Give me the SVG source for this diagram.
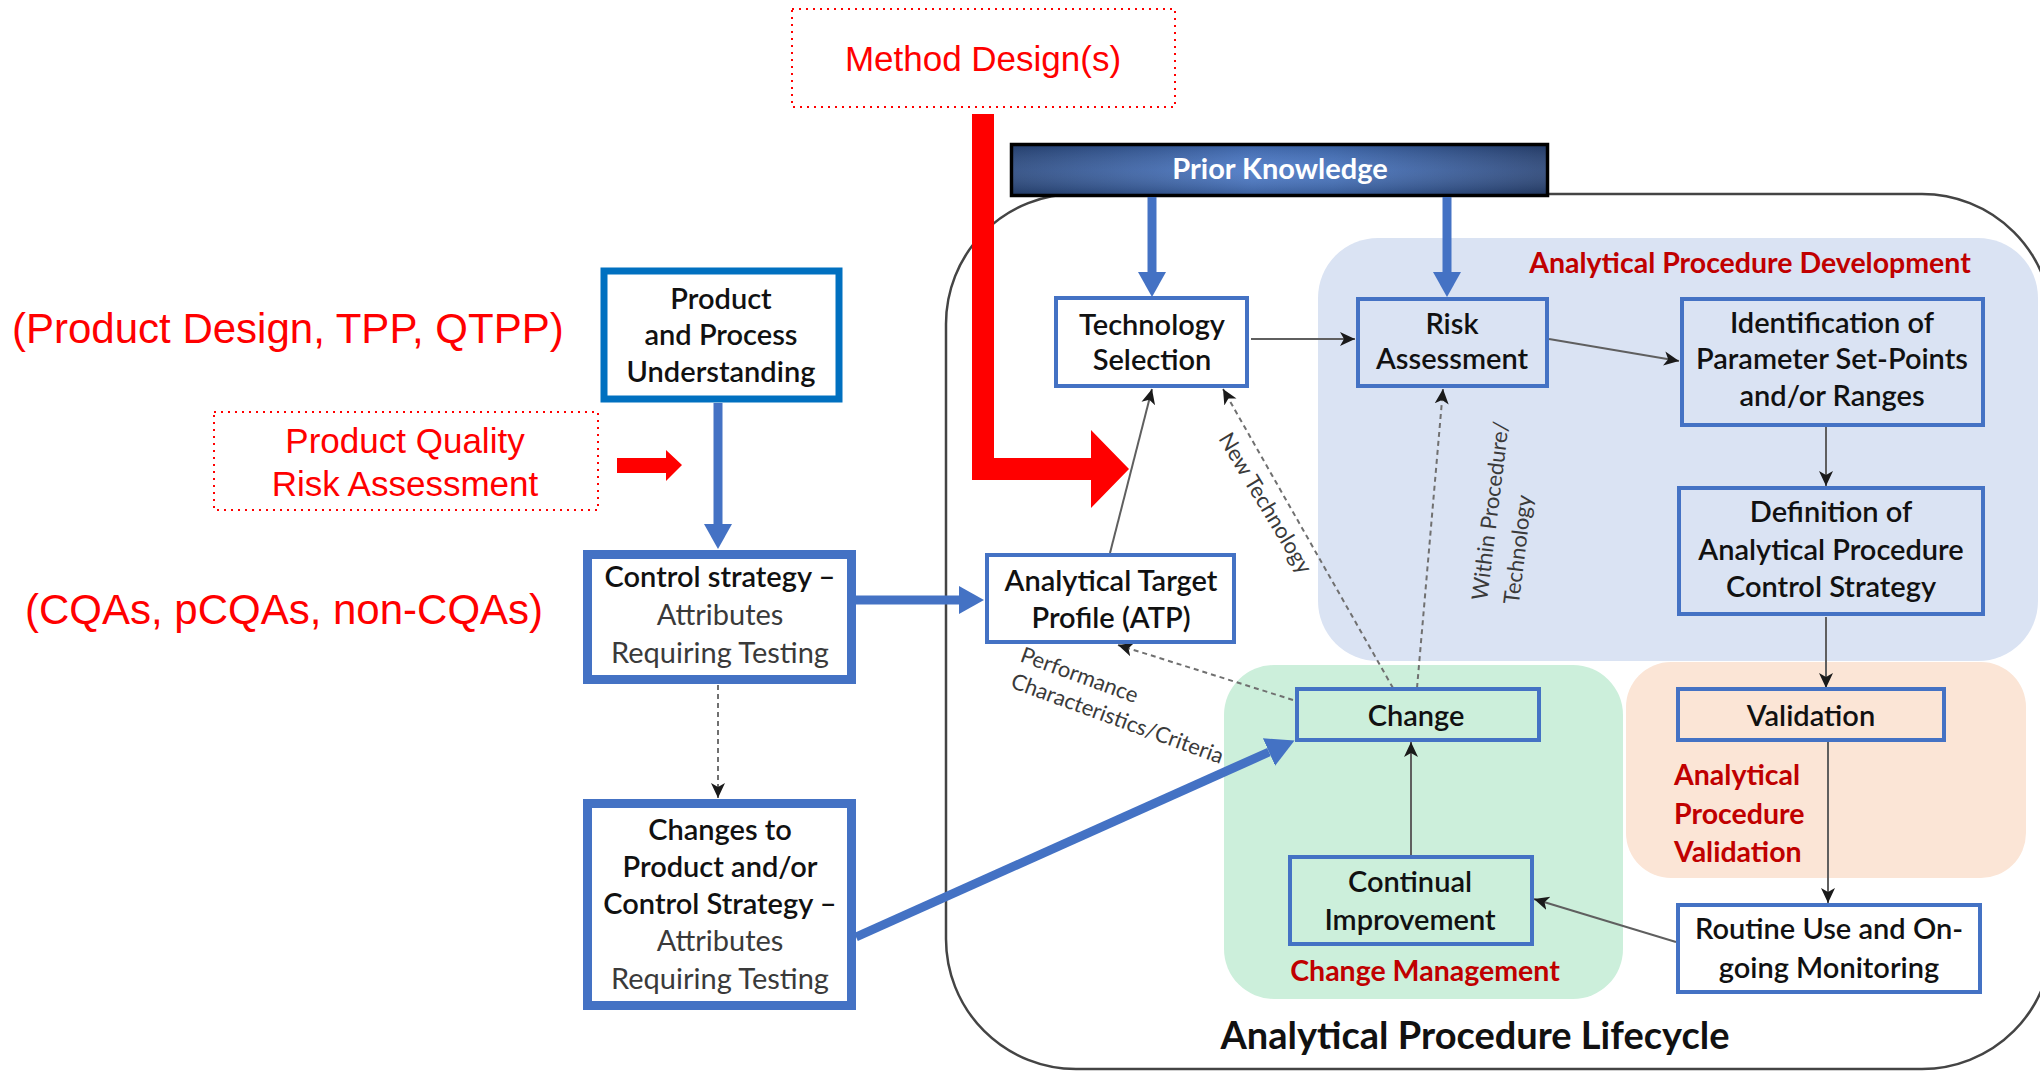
<svg xmlns="http://www.w3.org/2000/svg" width="2040" height="1072" viewBox="0 0 2040 1072">
  <defs>
    <style>
      .node { fill: #ffffff; stroke: #4472c4; stroke-width: 4; }
      .nodeClear { fill: none; stroke: #4472c4; stroke-width: 4; }
      .nodeHeavy { fill: #ffffff; stroke: #4472c4; stroke-width: 9; }
      .t { font-family: Lato, "Liberation Sans", Arial, sans-serif; font-size: 29px; font-weight: 600; fill: #111111; text-anchor: middle; }
      .tl { font-family: Lato, "Liberation Sans", Arial, sans-serif; font-size: 29px; font-weight: 400; fill: #3a3a3a; text-anchor: middle; }
      .red { font-family: "Liberation Sans", Arial, sans-serif; fill: #ff0000; }
      .region { font-family: Lato, "Liberation Sans", Arial, sans-serif; font-size: 28.5px; font-weight: 700; fill: #c00000; }
      .small { font-family: Lato, "Liberation Sans", Arial, sans-serif; font-size: 22px; fill: #3a3a3a; }
      .thin { fill: none; stroke: #5f5f5f; stroke-width: 2; marker-end: url(#tip); }
      .dash { fill: none; stroke: #707070; stroke-width: 2; stroke-dasharray: 5 4; marker-end: url(#tip); }
      .blue { fill: none; stroke: #4472c4; }
      .dotted { fill: none; stroke: #ff0000; stroke-width: 2; stroke-dasharray: 2 5; }
    </style>
    <marker id="tip" markerUnits="userSpaceOnUse" markerWidth="18" markerHeight="18" refX="15" refY="8" orient="auto">
      <path d="M0,1 L15,8 L0,15 L4,8 Z" fill="#1a1a1a"/>
    </marker>
    <marker id="blueHead" markerUnits="userSpaceOnUse" markerWidth="30" markerHeight="30" refX="0" refY="14" orient="auto">
      <path d="M0,0 L25,14 L0,28 Z" fill="#4472c4"/>
    </marker>
    <marker id="blueHeadWide" markerUnits="userSpaceOnUse" markerWidth="34" markerHeight="34" refX="0" refY="15" orient="auto">
      <path d="M0,0 L28,15 L0,30 Z" fill="#4472c4"/>
    </marker>
    <linearGradient id="pkFill" x1="0" y1="0" x2="1" y2="0">
      <stop offset="0" stop-color="#2b4a80"/>
      <stop offset="0.45" stop-color="#4a78c6"/>
      <stop offset="0.6" stop-color="#4572bd"/>
      <stop offset="1" stop-color="#2a4577"/>
    </linearGradient>
    <linearGradient id="pkShade" x1="0" y1="0" x2="0" y2="1">
      <stop offset="0" stop-color="#000000" stop-opacity="0.15"/>
      <stop offset="0.5" stop-color="#ffffff" stop-opacity="0.08"/>
      <stop offset="1" stop-color="#000000" stop-opacity="0.2"/>
    </linearGradient>
  </defs>

  <!-- lifecycle frame -->
  <rect x="946" y="194" width="1106" height="875" rx="130" ry="130" fill="none" stroke="#444444" stroke-width="2.5"/>

  <!-- shaded stage areas -->
  <g id="stages">
    <rect x="1318" y="238" width="720" height="423" rx="60" ry="60" fill="#dae3f3"/>
    <rect x="1224" y="665" width="399" height="334" rx="50" ry="50" fill="#ccefdb"/>
    <rect x="1626" y="662" width="400" height="216" rx="45" ry="45" fill="#fbe5d6"/>
  </g>

  <!-- free-standing red labels -->
  <g id="inputs">
    <rect x="792" y="9" width="383" height="98" class="dotted"/>
    <text x="983" y="71" class="red" font-size="35" text-anchor="middle">Method Design(s)</text>
    <text x="12" y="343" class="red" font-size="42">(Product Design, TPP, QTPP)</text>
    <rect x="214" y="412" width="384" height="98" class="dotted"/>
    <text x="405" y="453" class="red" font-size="35" text-anchor="middle">Product Quality</text>
    <text x="405" y="496" class="red" font-size="35" text-anchor="middle">Risk Assessment</text>
    <text x="284" y="624" class="red" font-size="42" text-anchor="middle">(CQAs, pCQAs, non-CQAs)</text>
    <polygon points="617,458 666,458 666,450 682,465 666,481 666,473 617,473" fill="#ff0000"/>
  </g>

  <!-- prior knowledge banner -->
  <g id="prior-knowledge">
    <rect x="1011.5" y="144.5" width="536" height="51" fill="url(#pkFill)" stroke="#000000" stroke-width="3.5"/>
    <rect x="1013" y="146" width="533" height="48" fill="url(#pkShade)"/>
    <text x="1280" y="179" font-family="Lato, 'Liberation Sans', Arial, sans-serif" font-size="29" font-weight="700" fill="#ffffff" text-anchor="middle">Prior Knowledge</text>
  </g>

  <!-- method design feed -->
  <polygon points="972,114 994,114 994,458 1091,458 1091,430 1129,469 1091,508 1091,480 972,480" fill="#ff0000"/>

  <!-- connectors -->
  <g id="connectors">
    <line x1="1152" y1="197" x2="1152" y2="272" class="blue" stroke-width="9" marker-end="url(#blueHead)"/>
    <line x1="1447" y1="197" x2="1447" y2="272" class="blue" stroke-width="9" marker-end="url(#blueHead)"/>
    <line x1="718" y1="403" x2="718" y2="524" class="blue" stroke-width="9" marker-end="url(#blueHead)"/>
    <line x1="856" y1="600" x2="959" y2="600" class="blue" stroke-width="9" marker-end="url(#blueHead)"/>
    <line x1="856" y1="937" x2="1269" y2="752" class="blue" stroke-width="9" marker-end="url(#blueHeadWide)"/>
    <line x1="718" y1="685" x2="718" y2="798" class="dash" stroke="#9a9a9a"/>
    <line x1="1251" y1="339" x2="1355" y2="339" class="thin"/>
    <line x1="1549" y1="339" x2="1679" y2="361" class="thin"/>
    <line x1="1826" y1="427" x2="1826" y2="486" class="thin"/>
    <line x1="1826" y1="617" x2="1826" y2="688" class="thin"/>
    <line x1="1828" y1="742" x2="1828" y2="903" class="thin"/>
    <line x1="1676" y1="942" x2="1534" y2="899" class="thin"/>
    <line x1="1411" y1="855" x2="1411" y2="742" class="thin"/>
    <line x1="1110" y1="553" x2="1152" y2="389" class="thin"/>
    <line x1="1293" y1="700" x2="1118" y2="645" class="dash"/>
    <line x1="1393" y1="688" x2="1223" y2="389" class="dash"/>
    <line x1="1417" y1="688" x2="1443" y2="389" class="dash"/>
  </g>

  <!-- connector labels -->
  <g id="connector-labels">
    <text class="small" text-anchor="middle" transform="translate(1259,507) rotate(59)">New Technology</text>
    <text class="small" transform="translate(1487,601) rotate(-83)">Within Procedure/<tspan x="0" dy="32">Technology</tspan></text>
    <text class="small" transform="translate(1019,661) rotate(20)">Performance<tspan x="0" dy="28">Characteristics/Criteria</tspan></text>
  </g>

  <!-- nodes -->
  <g id="product-process">
    <rect x="604" y="271" width="235" height="128" fill="#ffffff" stroke="#0070c0" stroke-width="7"/>
    <text class="t" x="721" y="309">Product</text>
    <text class="t" x="721" y="345">and Process</text>
    <text class="t" x="721" y="382">Understanding</text>
  </g>
  <g id="control-strategy">
    <rect x="587.5" y="554.5" width="264" height="125" class="nodeHeavy"/>
    <text class="t" x="720" y="587">Control strategy –</text>
    <text class="tl" x="720" y="625">Attributes</text>
    <text class="tl" x="720" y="663">Requiring Testing</text>
  </g>
  <g id="changes-to-product">
    <rect x="587.5" y="803.5" width="264" height="202" class="nodeHeavy"/>
    <text class="t" x="720" y="840">Changes to</text>
    <text class="t" x="720" y="877">Product and/or</text>
    <text class="t" x="720" y="914">Control Strategy –</text>
    <text class="tl" x="720" y="951">Attributes</text>
    <text class="tl" x="720" y="989">Requiring Testing</text>
  </g>
  <g id="atp">
    <rect x="987" y="555" width="247" height="87" class="node"/>
    <text class="t" x="1111" y="591">Analytical Target</text>
    <text class="t" x="1111" y="628">Profile (ATP)</text>
  </g>
  <g id="technology-selection">
    <rect x="1056" y="298" width="191" height="88" class="node"/>
    <text class="t" x="1152" y="335">Technology</text>
    <text class="t" x="1152" y="370">Selection</text>
  </g>
  <g id="risk-assessment">
    <rect x="1358" y="299" width="189" height="87" class="nodeClear"/>
    <text class="t" x="1452" y="334">Risk</text>
    <text class="t" x="1452" y="369">Assessment</text>
  </g>
  <g id="parameter-identification">
    <rect x="1682" y="299" width="301" height="126" class="nodeClear"/>
    <text class="t" x="1832" y="333">Identification of</text>
    <text class="t" x="1832" y="369">Parameter Set-Points</text>
    <text class="t" x="1832" y="406">and/or Ranges</text>
  </g>
  <g id="control-strategy-definition">
    <rect x="1679" y="488" width="304" height="126" class="nodeClear"/>
    <text class="t" x="1831" y="522">Definition of</text>
    <text class="t" x="1831" y="560">Analytical Procedure</text>
    <text class="t" x="1831" y="597">Control Strategy</text>
  </g>
  <g id="change">
    <rect x="1297" y="689" width="242" height="51" class="nodeClear"/>
    <text class="t" x="1416" y="726">Change</text>
  </g>
  <g id="validation">
    <rect x="1678" y="689" width="266" height="51" class="nodeClear"/>
    <text class="t" x="1811" y="726">Validation</text>
  </g>
  <g id="continual-improvement">
    <rect x="1290" y="857" width="242" height="87" class="nodeClear"/>
    <text class="t" x="1410" y="892">Continual</text>
    <text class="t" x="1410" y="930">Improvement</text>
  </g>
  <g id="routine-use">
    <rect x="1678" y="905" width="302" height="87" class="node"/>
    <text class="t" x="1829" y="939">Routine Use and On-</text>
    <text class="t" x="1829" y="978">going Monitoring</text>
  </g>

  <!-- stage titles -->
  <g id="stage-labels">
    <text class="region" x="1750" y="273" text-anchor="middle">Analytical Procedure Development</text>
    <text class="region" x="1425" y="981" text-anchor="middle">Change Management</text>
    <text class="region" x="1674" y="785">Analytical</text>
    <text class="region" x="1674" y="824">Procedure</text>
    <text class="region" x="1674" y="862">Validation</text>
    <text x="1475" y="1049" font-family="Lato, 'Liberation Sans', Arial, sans-serif" font-size="38" font-weight="700" fill="#111111" text-anchor="middle">Analytical Procedure Lifecycle</text>
  </g>
</svg>
